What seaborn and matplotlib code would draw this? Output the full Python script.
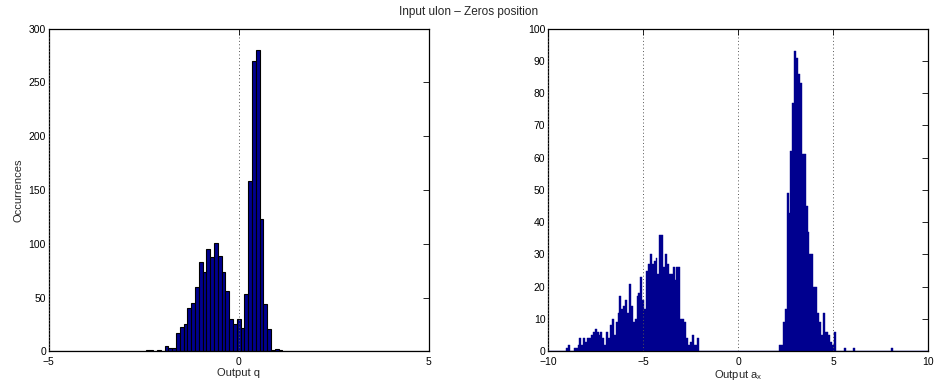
import numpy as np
import pandas as pd
import matplotlib
matplotlib.use("Agg")
import matplotlib.pyplot as plt
import seaborn as sns

# ---------------- data ----------------
title = "Input ulon \u2013 Zeros position"

# left histogram: output q, bins of width 0.1 centred on multiples of 0.1
q_first_center = -2.4
q_counts = [1, 1, 0, 1, 0, 5, 3, 3, 17, 23, 25, 40, 45, 60, 83, 74, 95, 88, 101,
            89, 74, 56, 30, 25, 30, 22, 53, 158, 270, 280, 123, 44, 21, 1, 2, 1]

# right histogram: output a_x (two clusters + outliers)
ax_neg_first_center = -9.0
ax_neg_counts = [1, 2, 0, 0, 1, 1, 2, 4, 2, 4, 3, 4, 4, 5, 6, 7, 6, 5, 6, 4,
                 2, 6, 4, 8, 10, 5, 9, 12, 17, 13, 14, 16, 12, 21, 14, 9, 10, 17,
                 18, 23, 16, 13, 25, 27, 30, 27, 28, 29, 24, 36, 36, 26, 30, 27,
                 24, 24, 26, 22, 26, 26, 10, 10, 9, 4, 2, 3, 5, 2, 2, 4]
ax_pos_first_center = 2.2
ax_pos_counts = [2, 2, 9, 13, 49, 43, 62, 77, 93, 91, 86, 83, 61, 61, 45, 37,
                 30, 30, 20, 20, 12, 9, 5, 12, 6, 6, 5, 3, 2, 6]
ax_outlier_centers = [5.6, 6.1, 8.1]
ax_outlier_counts = [1, 1, 1]

left_xticks = [-5, 0, 5]
left_yticks = [0, 50, 100, 150, 200, 250, 300]
right_xticks = [-10, -5, 0, 5, 10]
right_yticks = list(range(0, 101, 10))

# ---------------- helpers ----------------
def centers(first, n):
    return np.round(first + 0.1 * np.arange(n), 2)

df_q = pd.DataFrame({"q": centers(q_first_center, len(q_counts)),
                     "n": np.asarray(q_counts, dtype=float)})
df_a = pd.DataFrame({
    "a": np.concatenate([centers(ax_neg_first_center, len(ax_neg_counts)),
                         centers(ax_pos_first_center, len(ax_pos_counts)),
                         np.asarray(ax_outlier_centers, dtype=float)]),
    "n": np.concatenate([ax_neg_counts, ax_pos_counts, ax_outlier_counts]).astype(float),
})

sns.set_style("white")
plt.rcParams["font.family"] = ["Liberation Sans Narrow", "Liberation Sans", "DejaVu Sans"]
plt.rcParams["mathtext.fontset"] = "custom"
plt.rcParams["mathtext.rm"] = "Liberation Sans"
plt.rcParams["mathtext.it"] = "Liberation Sans"

fig = plt.figure(figsize=(9.37, 3.90), dpi=100)
axL = fig.add_axes([0.052, 0.0992, 0.4056, 0.8277])
axR = fig.add_axes([0.585, 0.0992, 0.4056, 0.8277])

navy = "#00008F"

sns.histplot(data=df_q, x="q", weights="n", binwidth=0.1, binrange=(-5.05, 5.05),
             ax=axL, color=navy, edgecolor="black", linewidth=0.8, alpha=1.0)
sns.histplot(data=df_a, x="a", weights="n", binwidth=0.1, binrange=(-10.05, 10.05),
             ax=axR, color=navy, edgecolor=navy, linewidth=0.3, alpha=1.0)

def style(ax, xlim, ylim, xt, yt):
    ax.set_xlim(*xlim)
    ax.set_ylim(*ylim)
    ax.set_xticks(xt)
    ax.set_yticks(yt)
    ax.set_xticklabels([("\u2212" if v < 0 else "") + str(abs(v)) for v in xt])
    ax.set_yticklabels([str(v) for v in yt])
    ax.tick_params(direction="in", length=4, width=0.6, top=True, right=True,
                   labelsize=7.5, colors="black")
    ax.tick_params(axis="x", pad=4)
    ax.tick_params(axis="y", pad=2)
    ax.xaxis.grid(True, linestyle=(0, (1, 2.5)), color="#555555", linewidth=0.7)
    ax.yaxis.grid(False)
    ax.set_axisbelow(False)
    for s in ax.spines.values():
        s.set_visible(True)
        s.set_color("black")
        s.set_linewidth(0.9)
    ax.set_ylabel("")

style(axL, (-5, 5), (0, 300), left_xticks, left_yticks)
style(axR, (-10, 10), (0, 100), right_xticks, right_yticks)

axL.set_xlabel("Output q", fontsize=8, labelpad=1)
axL.set_ylabel("Occurrences", fontsize=8, labelpad=4)
axR.set_xlabel(r"Output a$_{\mathrm{x}}$", fontsize=8, labelpad=1)

fig.text(0.5, 0.968, title, ha="center", va="center", fontsize=8.5)

fig.savefig("out.png", dpi=100, facecolor="white")
